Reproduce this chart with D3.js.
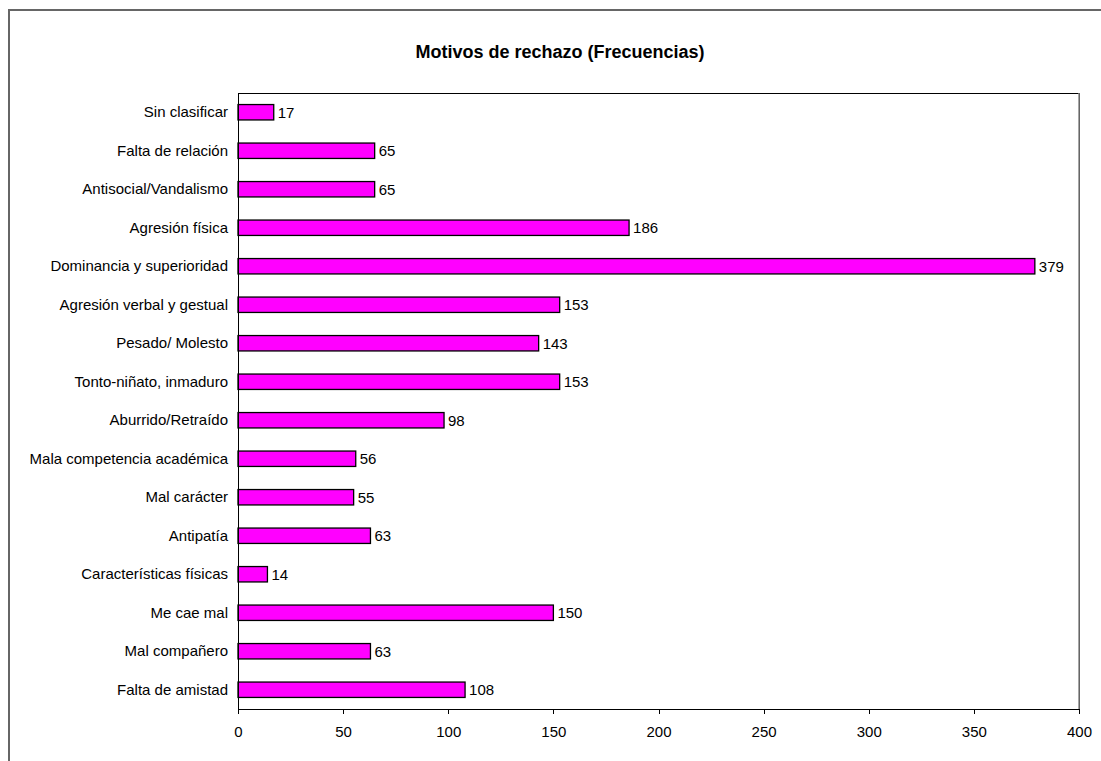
<!DOCTYPE html>
<html>
<head>
<meta charset="utf-8">
<script src="https://cdn.jsdelivr.net/npm/d3@7"></script>
<style>
  html, body { margin: 0; padding: 0; background: #fff; }
  svg { display: block; font-family: "Liberation Sans", Arial, sans-serif; }
</style>
</head>
<body>
<svg id="chart" width="1101" height="761"></svg>
<script>
// Motivos de rechazo, listed top to bottom
const categories = [
  "Sin clasificar",
  "Falta de relación",
  "Antisocial/Vandalismo",
  "Agresión física",
  "Dominancia y superioridad",
  "Agresión verbal y gestual",
  "Pesado/ Molesto",
  "Tonto-niñato, inmaduro",
  "Aburrido/Retraído",
  "Mala competencia académica",
  "Mal carácter",
  "Antipatía",
  "Características físicas",
  "Me cae mal",
  "Mal compañero",
  "Falta de amistad"
];
const frequencies = [17, 65, 65, 186, 379, 153, 143, 153, 98, 56, 55, 63, 14, 150, 63, 108];
const xTicks = [0, 50, 100, 150, 200, 250, 300, 350, 400];
const chartTitle = "Motivos de rechazo (Frecuencias)";

const svg = d3.select("#chart");
const plot = { left: 238, right: 1079, top: 93, bottom: 709 };
const labelSize = 15;

// Outer chart frame (continues past the right and bottom edges)
svg.append("path")
  .attr("d", `M9,761 V10 H1101`)
  .attr("fill", "none")
  .attr("stroke", "#666")
  .attr("stroke-width", 2);

svg.append("text")
  .attr("x", 560).attr("y", 58)
  .attr("text-anchor", "middle")
  .attr("font-size", 18).attr("font-weight", "bold")
  .attr("fill", "#000")
  .text(chartTitle);

const x = d3.scaleLinear().domain([0, 400]).range([plot.left, plot.right]);
const y = d3.scaleBand().domain(categories).range([plot.top, plot.bottom]).paddingInner(0.6).paddingOuter(0.3);

// Plot area border
svg.append("path")
  .attr("d", `M${plot.left},${plot.top} H${plot.right} V${plot.bottom}`)
  .attr("fill", "none").attr("stroke", "#000").attr("stroke-width", 1)
  .attr("shape-rendering", "crispEdges");
svg.append("line")
  .attr("x1", plot.right).attr("x2", plot.right)
  .attr("y1", plot.top).attr("y2", plot.bottom)
  .attr("stroke", "#888").attr("stroke-width", 1.5);

// Bars
const data = categories.map((c, i) => ({ c, v: frequencies[i] }));
svg.append("g").selectAll("rect").data(data).join("rect")
  .attr("x", x(0))
  .attr("y", d => y(d.c))
  .attr("width", d => x(d.v) - x(0))
  .attr("height", y.bandwidth())
  .attr("fill", "#FF00FF")
  .attr("stroke", "#000")
  .attr("stroke-width", 1.3);

// Value labels
svg.append("g").selectAll("text").data(data).join("text")
  .attr("x", d => x(d.v) + 4)
  .attr("y", d => y(d.c) + y.bandwidth() / 2)
  .attr("dy", "0.36em")
  .attr("font-size", labelSize)
  .attr("fill", "#000")
  .text(d => d.v);

// Category axis
const yAxis = svg.append("g")
  .attr("transform", `translate(${plot.left},0)`)
  .call(d3.axisLeft(y).tickSize(0).tickPadding(10));
yAxis.select(".domain").attr("stroke", "#000").attr("shape-rendering", "crispEdges");
yAxis.selectAll("text").attr("font-size", labelSize).attr("fill", "#000")
  .attr("font-family", "Liberation Sans, Arial, sans-serif");

// Value axis
const xAxis = svg.append("g")
  .attr("transform", `translate(0,${plot.bottom})`)
  .call(d3.axisBottom(x).tickValues(xTicks).tickSize(5).tickPadding(12).tickSizeOuter(0));
xAxis.select(".domain").attr("stroke", "#000").attr("shape-rendering", "crispEdges");
xAxis.selectAll(".tick line").attr("stroke", "#000").attr("shape-rendering", "crispEdges");
xAxis.selectAll("text").attr("font-size", labelSize).attr("fill", "#000")
  .attr("font-family", "Liberation Sans, Arial, sans-serif");
</script>
</body>
</html>
